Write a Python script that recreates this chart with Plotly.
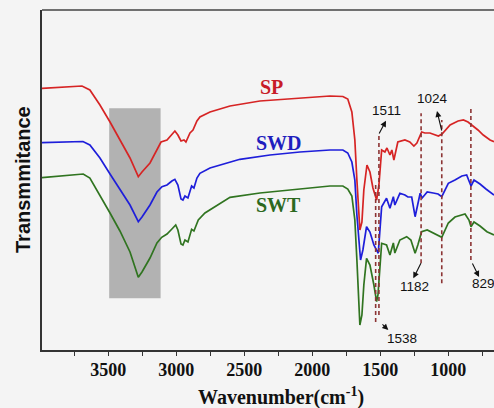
import plotly.graph_objects as go

# ---- data (wavenumber cm-1, relative transmittance) ----
sp_w = [3987, 3855, 3693, 3635, 3561, 3487, 3414, 3340, 3279, 3252, 3193, 3142, 3112, 3068, 3032, 3010,
        2988, 2965, 2943, 2929, 2899, 2877, 2848, 2826, 2752, 2605, 2385, 2091, 1870, 1775, 1739, 1709,
        1687, 1672, 1650, 1635, 1621, 1598, 1576, 1554, 1527, 1510, 1490, 1466, 1451, 1429, 1415, 1400,
        1371, 1319, 1283, 1253, 1231, 1196, 1172, 1135, 1098, 1073, 1046, 987, 928, 889, 855, 826, 782,
        743, 693, 664]
sp_t = [261.7, 262.5, 264, 260, 245, 228, 210, 192, 173.3, 178, 187, 200, 208, 210, 216, 219,
        215, 209, 210, 208, 217, 220, 229, 233, 238, 244, 249, 252, 254, 253.5, 251, 238,
        210, 170, 120, 128, 160, 185, 178, 162, 150, 165, 200, 198, 202, 195, 200, 190,
        208, 210, 208, 204, 207, 218, 217, 217, 215, 214, 216, 225, 229, 230, 228, 225, 220,
        215, 210, 208.3]

swd_w = [3987, 3855, 3686, 3635, 3561, 3487, 3414, 3340, 3279, 3252, 3193, 3142, 3105, 3068, 3032, 3010,
         2988, 2965, 2951, 2936, 2914, 2887, 2870, 2848, 2826, 2752, 2532, 2311, 2091, 1870, 1775, 1739,
         1709, 1687, 1672, 1645, 1628, 1601, 1576, 1547, 1515, 1503, 1490, 1454, 1429, 1404, 1393, 1356,
         1319, 1297, 1269, 1244, 1224, 1207, 1192, 1155, 1111, 1075, 1048, 1000, 951, 900, 865, 848, 833,
         811, 767, 723, 664]
swd_t = [207.3, 208, 208.5, 205, 192, 176, 160, 145, 128.3, 133, 145, 158, 163.3, 165, 169, 170.7,
         165, 151, 150, 154, 152, 164, 162, 172, 176.7, 182, 190.7, 195, 198, 200, 200, 197,
         188, 170, 135, 90, 100, 123.3, 118, 105, 96.7, 115, 143.3, 151.7, 141.7, 153.3, 145, 156.7,
         155, 153, 153, 133.3, 145, 156.7, 152, 158, 157, 156, 153.3, 166.7, 170, 174, 175, 170, 164,
         170, 166, 161, 155]

swt_w = [3987, 3855, 3684, 3635, 3561, 3487, 3414, 3340, 3279, 3252, 3193, 3142, 3107, 3068, 3032, 3004,
         2988, 2965, 2951, 2936, 2914, 2887, 2870, 2838, 2789, 2605, 2385, 2091, 1870, 1775, 1739, 1709,
         1687, 1672, 1650, 1635, 1621, 1601, 1576, 1547, 1527, 1517, 1490, 1454, 1429, 1404, 1393, 1356,
         1306, 1275, 1244, 1224, 1196, 1155, 1111, 1075, 1048, 1000, 951, 877, 848, 833, 811, 767, 716, 664]
swt_t = [172.3, 174, 176, 172, 155, 137, 119, 98, 72.7, 78, 92, 107, 112.7, 116, 121, 125,
         120, 106, 105, 110, 108, 120.7, 119, 130, 137, 152.7, 157, 161, 164, 164, 161, 154,
         130, 90, 25, 35, 65, 91.7, 85, 65, 48.3, 55, 106.7, 105, 95, 107, 97, 110,
         113.3, 110, 96.7, 105, 118.3, 120, 117, 115, 112.7, 127, 133, 136, 130, 123.3, 128, 124, 118.3, 115]

series_names = ["SP", "SWD", "SWT"]

# marked bands: label, dashed-line position, line span, label position, arrow tail, arrow head
band_labels = ["1538", "1511", "1182", "1024", "829"]
band_line_w = [1534, 1510, 1200, 1048, 834]
band_line_lo = [28, 35, 86.7, 66.7, 90]
band_line_hi = [165, 217, 236.7, 230, 241.7]
band_text_w = [1343, 1453, 1245, 1116, 738]
band_text_t = [12, 239.2, 63.5, 251.3, 66.5]
band_tail_w = [1495, 1514, 1196, 1046, 828]
band_tail_t = [27, 215, 88.3, 218, 88]
band_head_w = [1441, 1458, 1257, 1083, 774]
band_head_t = [20, 229.3, 71.7, 239, 73]

oh_band_w = [3493, 3115]
oh_band_t = [51.7, 241.7]

xticks = [3500, 3000, 2500, 2000, 1500, 1000]

line_colors = ["rgb(214,36,36)", "rgb(30,30,218)", "rgb(48,116,32)"]
text_colors = ["rgb(200,28,40)", "rgb(30,30,190)", "rgb(44,104,30)"]
label_pos_w = [2298, 2241, 2247]
label_pos_t = [263.3, 206.7, 145]
dash_color = "rgb(140,52,52)"

fig = go.Figure()

fig.add_shape(type="rect", x0=oh_band_w[0], x1=oh_band_w[1], y0=oh_band_t[0], y1=oh_band_t[1],
              xref="x", yref="y", fillcolor="rgb(178,178,178)", line=dict(width=0), layer="below")

for w, t, c, n in zip([sp_w, swd_w, swt_w], [sp_t, swd_t, swt_t], line_colors, series_names):
    fig.add_trace(go.Scatter(x=w, y=t, mode="lines", name=n, line=dict(color=c, width=1.7),
                             showlegend=False, hoverinfo="skip"))

for lw, lo, hi in zip(band_line_w, band_line_lo, band_line_hi):
    fig.add_shape(type="line", x0=lw, x1=lw, y0=lo, y1=hi, xref="x", yref="y",
                  line=dict(color=dash_color, width=1.6, dash="4px,3px"))

for lab, tw, tt, aw, at, hw, ht in zip(band_labels, band_text_w, band_text_t, band_tail_w,
                                        band_tail_t, band_head_w, band_head_t):
    fig.add_annotation(x=tw, y=tt, text=lab, showarrow=False, xref="x", yref="y",
                       xanchor="center", yanchor="middle",
                       font=dict(family="Liberation Sans", size=13.5, color="#111"))
    fig.add_annotation(x=hw, y=ht, ax=aw, ay=at, axref="x", ayref="y", xref="x", yref="y",
                       text="", showarrow=True, arrowhead=2, arrowsize=1.1, arrowwidth=1.1,
                       arrowcolor="#111", standoff=0, startstandoff=0)

for n, c, w, t in zip(series_names, text_colors, label_pos_w, label_pos_t):
    fig.add_annotation(x=w, y=t, text="<b>%s</b>" % n, showarrow=False, xref="x", yref="y",
                       xanchor="center", yanchor="middle",
                       font=dict(family="Liberation Serif", size=20, color=c))

# top frame line
fig.add_shape(type="line", x0=0, x1=1, y0=1, y1=1, xref="paper", yref="paper",
              line=dict(color="#444", width=1.5))

fig.add_annotation(x=0.529, y=-0.138, xref="paper", yref="paper", showarrow=False,
                   xanchor="center", yanchor="middle",
                   text="<b>Wavenumber(cm<sup>-1</sup>)</b>",
                   font=dict(family="Liberation Serif", size=20, color="#111"))
fig.add_annotation(x=-0.042, y=0.5, xref="paper", yref="paper", showarrow=False, textangle=-90,
                   xanchor="center", yanchor="middle",
                   text="<b>Transmmitance</b>",
                   font=dict(family="Liberation Sans", size=20, color="#111"))

fig.update_layout(
    width=494, height=408,
    margin=dict(l=42, r=0, t=10, b=58),
    paper_bgcolor="#f4f4f4", plot_bgcolor="#f4f4f4",
    showlegend=False,
)
fig.update_xaxes(range=[3987, 664], tickmode="array", tickvals=xticks,
                 ticks="outside", ticklen=4, tickwidth=1.2, tickcolor="#333",
                 ticklabelstandoff=-1,
                 minor=dict(tick0=0, dtick=250, ticks="outside", ticklen=4, tickcolor="#333", tickwidth=1.2),
                 showline=True, linecolor="#333", linewidth=1.5, showgrid=False, zeroline=False,
                 tickfont=dict(family="Liberation Serif", size=18, color="#111", weight="bold"))
fig.update_yaxes(range=[0, 340], showticklabels=False, ticks="", showline=True, linecolor="#333",
                 linewidth=1.5, showgrid=False, zeroline=False)

fig.write_html("out.html", config={"displayModeBar": False},
               post_script="document.body.style.margin='0';document.body.style.padding='0';"
                           "document.body.style.overflow='hidden';"
                           "document.documentElement.style.overflow='hidden';"
                           "document.body.style.background='#f4f4f4';")
